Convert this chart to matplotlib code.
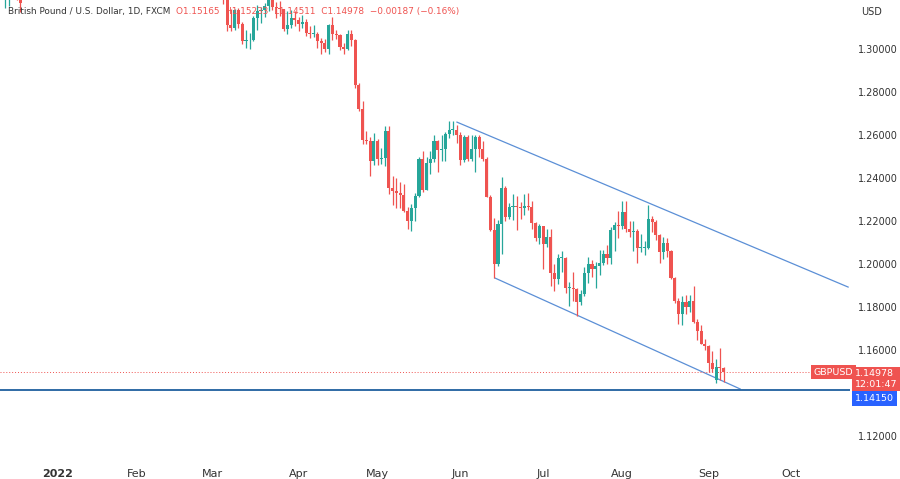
import numpy as np
import matplotlib
matplotlib.use("Agg")
import matplotlib.pyplot as plt

# GBPUSD daily, FXCM
dates = (
    ["2021-12-14", "2021-12-15", "2021-12-16", "2021-12-17", "2021-12-20"]
    + ["2022-03-%02d" % d for d in (1, 2, 3, 4, 7, 8, 9, 10, 11, 14, 15, 16, 17, 18, 21, 22, 23, 24, 25, 28, 29, 30, 31)]
    + ["2022-04-%02d" % d for d in (1, 4, 5, 6, 7, 8, 11, 12, 13, 14, 15, 18, 19, 20, 21, 22, 25, 26, 27, 28, 29)]
    + ["2022-05-%02d" % d for d in (2, 3, 4, 5, 6, 9, 10, 11, 12, 13, 16, 17, 18, 19, 20, 23, 24, 25, 26, 27, 30, 31)]
    + ["2022-06-%02d" % d for d in (1, 2, 3, 6, 7, 8, 9, 10, 13, 14, 15, 16, 17, 20, 21, 22, 23, 24, 27, 28, 29, 30)]
    + ["2022-07-%02d" % d for d in (1, 4, 5, 6, 7, 8, 11, 12, 13, 14, 15, 18, 19, 20, 21, 22, 25, 26, 27, 28, 29)]
    + ["2022-08-%02d" % d for d in (1, 2, 3, 4, 5, 8, 9, 10, 11, 12, 15, 16, 17, 18, 19, 22, 23, 24, 25, 26, 29, 30, 31)]
    + ["2022-09-%02d" % d for d in (1, 2, 5, 6, 7)]
)
closes = [
    1.3245, 1.3285, 1.3300, 1.3240, 1.3215,
    1.3280, 1.3370, 1.3345, 1.3240, 1.3110, 1.3100, 1.3180, 1.3115, 1.3035, 1.3040, 1.3040, 1.3145,
    1.3175, 1.3180, 1.3200, 1.3270, 1.3195, 1.3190, 1.3185, 1.3095, 1.3110, 1.3145, 1.3135,
    1.3115, 1.3125, 1.3075, 1.3070, 1.3070, 1.3035, 1.3030, 1.3000, 1.3110, 1.3070, 1.3065,
    1.3010, 1.3000, 1.3070, 1.3040, 1.2835, 1.2720, 1.2575, 1.2570, 1.2480, 1.2570,
    1.2490, 1.2495, 1.2620, 1.2355, 1.2340, 1.2330, 1.2320, 1.2245, 1.2200, 1.2260, 1.2315,
    1.2490, 1.2345, 1.2470, 1.2490, 1.2570, 1.2530, 1.2535, 1.2605, 1.2625, 1.2625, 1.2600,
    1.2485, 1.2590, 1.2490, 1.2535, 1.2590, 1.2535, 1.2490, 1.2310, 1.2160, 1.2000, 1.2185,
    1.2355, 1.2220, 1.2265, 1.2270, 1.2265, 1.2260, 1.2270, 1.2265, 1.2190, 1.2120, 1.2175,
    1.2095, 1.2125, 1.1960, 1.1930, 1.2030, 1.2030, 1.1890, 1.1890, 1.1885, 1.1825, 1.1860,
    1.1960, 1.2000, 1.1975, 1.1990, 1.2005, 1.2045, 1.2030, 1.2160, 1.2180, 1.2175,
    1.2240, 1.2165, 1.2150, 1.2155, 1.2075, 1.2075, 1.2075, 1.2210, 1.2195, 1.2135, 1.2055,
    1.2100, 1.2060, 1.1935, 1.1830, 1.1770, 1.1825, 1.1800, 1.1830, 1.1730, 1.1690, 1.1630, 1.1620,
    1.1540, 1.1510, 1.1520, 1.1517, 1.1498,
]
opens = [
    1.3235, 1.3245, 1.3285, 1.3300, 1.3240,
    1.3415, 1.3280, 1.3370, 1.3345, 1.3240, 1.3110, 1.3100, 1.3180, 1.3115, 1.3035, 1.3040, 1.3040,
    1.3145, 1.3175, 1.3180, 1.3200, 1.3270, 1.3195, 1.3190, 1.3185, 1.3095, 1.3110, 1.3145,
    1.3135, 1.3115, 1.3125, 1.3075, 1.3070, 1.3070, 1.3035, 1.3030, 1.3000, 1.3110, 1.3070,
    1.3065, 1.3010, 1.3000, 1.3070, 1.3040, 1.2835, 1.2720, 1.2575, 1.2570, 1.2480,
    1.2570, 1.2490, 1.2495, 1.2620, 1.2355, 1.2340, 1.2330, 1.2320, 1.2245, 1.2200, 1.2260,
    1.2315, 1.2490, 1.2345, 1.2470, 1.2490, 1.2570, 1.2530, 1.2535, 1.2605, 1.2625, 1.2625,
    1.2600, 1.2485, 1.2590, 1.2490, 1.2535, 1.2590, 1.2535, 1.2490, 1.2310, 1.2160, 1.2000,
    1.2185, 1.2355, 1.2220, 1.2265, 1.2270, 1.2265, 1.2260, 1.2270, 1.2265, 1.2190, 1.2120,
    1.2175, 1.2095, 1.2125, 1.1960, 1.1930, 1.2030, 1.2030, 1.1890, 1.1890, 1.1885, 1.1825,
    1.1860, 1.1960, 1.2000, 1.1975, 1.1990, 1.2005, 1.2045, 1.2030, 1.2160, 1.2180,
    1.2175, 1.2240, 1.2165, 1.2150, 1.2155, 1.2075, 1.2075, 1.2075, 1.2210, 1.2195, 1.2135,
    1.2055, 1.2100, 1.2060, 1.1935, 1.1830, 1.1770, 1.1825, 1.1800, 1.1830, 1.1730, 1.1690, 1.1630,
    1.1620, 1.1540, 1.1460, 1.1520, 1.15165,
]
highs = [
    1.3275, 1.3300, 1.3375, 1.3310, 1.3255,
    1.3435, 1.3385, 1.3400, 1.3350, 1.3245, 1.3185, 1.3185, 1.3190, 1.3125, 1.3090, 1.3075, 1.3155,
    1.3205, 1.3195, 1.3215, 1.3295, 1.3300, 1.3220, 1.3225, 1.3185, 1.3175, 1.3180, 1.3175,
    1.3150, 1.3160, 1.3140, 1.3105, 1.3110, 1.3080, 1.3050, 1.3045, 1.3115, 1.3150, 1.3090,
    1.3070, 1.3030, 1.3090, 1.3090, 1.3045, 1.2840, 1.2760, 1.2620, 1.2590, 1.2610,
    1.2580, 1.2540, 1.2640, 1.2640, 1.2410, 1.2400, 1.2380, 1.2370, 1.2265, 1.2280, 1.2330,
    1.2500, 1.2525, 1.2500, 1.2525, 1.2600, 1.2575, 1.2600, 1.2615, 1.2665, 1.2665, 1.2645,
    1.2615, 1.2600, 1.2600, 1.2600, 1.2600, 1.2600, 1.2570, 1.2500, 1.2320, 1.2215, 1.2205,
    1.2405, 1.2365, 1.2285, 1.2325, 1.2315, 1.2290, 1.2325, 1.2330, 1.2295, 1.2195, 1.2185,
    1.2175, 1.2165, 1.2165, 1.2000, 1.2045, 1.2060, 1.2035, 1.1915, 1.1965, 1.1890, 1.1880,
    1.1985, 1.2035, 1.2020, 1.2010, 1.2065, 1.2065, 1.2090, 1.2170, 1.2195, 1.2245,
    1.2295, 1.2295, 1.2200, 1.2200, 1.2165, 1.2140, 1.2105, 1.2275, 1.2225, 1.2205, 1.2140,
    1.2125, 1.2120, 1.2065, 1.1940, 1.1840, 1.1850, 1.1855, 1.1855, 1.1900, 1.1745, 1.1715, 1.1650,
    1.1625, 1.1595, 1.1560, 1.1610, 1.15233,
]
lows = [
    1.3190, 1.3200, 1.3250, 1.3230, 1.3170,
    1.3270, 1.3275, 1.3310, 1.3210, 1.3085, 1.3085, 1.3090, 1.3100, 1.3025, 1.3005, 1.3000, 1.3035,
    1.3090, 1.3120, 1.3150, 1.3175, 1.3180, 1.3145, 1.3155, 1.3085, 1.3070, 1.3100, 1.3105,
    1.3085, 1.3100, 1.3060, 1.3050, 1.3055, 1.3005, 1.2975, 1.2985, 1.2975, 1.3040, 1.3045,
    1.2995, 1.2975, 1.2995, 1.3015, 1.2820, 1.2710, 1.2560, 1.2560, 1.2410, 1.2460,
    1.2460, 1.2465, 1.2455, 1.2325, 1.2275, 1.2260, 1.2260, 1.2240, 1.2165, 1.2155, 1.2200,
    1.2310, 1.2335, 1.2345, 1.2420, 1.2475, 1.2430, 1.2480, 1.2480, 1.2585, 1.2600, 1.2565,
    1.2460, 1.2475, 1.2480, 1.2480, 1.2430, 1.2500, 1.2480, 1.2310, 1.2155, 1.1935, 1.1990,
    1.2045, 1.2200, 1.2210, 1.2205, 1.2160, 1.2210, 1.2230, 1.2250, 1.2165, 1.2105, 1.2095,
    1.1975, 1.2080, 1.1900, 1.1875, 1.1905, 1.1965, 1.1865, 1.1805, 1.1830, 1.1760, 1.1810,
    1.1850, 1.1910, 1.1940, 1.1890, 1.1950, 1.1995, 1.2000, 1.2000, 1.2060, 1.2120,
    1.2165, 1.2150, 1.2125, 1.2060, 1.2005, 1.2055, 1.2040, 1.2070, 1.2150, 1.2110, 1.2005,
    1.2025, 1.2035, 1.1930, 1.1820, 1.1720, 1.1715, 1.1770, 1.1775, 1.1725, 1.1645, 1.1630, 1.1600,
    1.1500, 1.1500, 1.1445, 1.1460, 1.14511,
]

month_labels = ["2022", "Feb", "Mar", "Apr", "May", "Jun", "Jul", "Aug", "Sep", "Oct"]
month_starts = ["2022-01-03", "2022-02-01", "2022-03-01", "2022-04-01", "2022-05-02",
                "2022-06-01", "2022-07-01", "2022-08-01", "2022-09-01", "2022-10-03"]
price_ticks = [1.12, 1.16, 1.18, 1.20, 1.22, 1.24, 1.26, 1.28, 1.30]

last_price = 1.14978
support = 1.14150
# channel lines (bar index, price)
upper_line = [(106.1, 1.2660), (210.1, 1.1893)]
lower_line = [(116.2, 1.1935), (181.4, 1.1419)]

UP, DOWN = "#26a69a", "#ef5350"

def bar_index(d):
    return np.busday_count("2022-01-03", d)

x = np.array([bar_index(d) for d in dates])
o, h, l, c = map(np.array, (opens, highs, lows, closes))
col = np.where(c >= o, UP, DOWN)

fig = plt.figure(figsize=(9, 4.79), dpi=100)
ax = fig.add_axes([0, 21 / 479, 850 / 900, 458 / 479])

ax.vlines(x, l, h, colors=col, linewidth=0.9, zorder=2)
body_lo = np.minimum(o, c)
body_h = np.maximum(np.abs(c - o), 0.0004)
ax.bar(x, body_h, bottom=body_lo, width=0.82, color=col, zorder=3)

ax.plot(*zip(*upper_line), color="#5b8fd6", linewidth=0.9, zorder=1)
ax.plot(*zip(*lower_line), color="#5b8fd6", linewidth=0.9, zorder=1)
ax.axhline(support, color="#1f5f9e", linewidth=1.3, zorder=1)
ax.axhline(last_price, color="#ef5350", linewidth=0.7, linestyle=(0, (1, 2)), zorder=1)

ax.set_xlim(-15.4, 210.6)
ax.set_ylim(1.1098, 1.3228)
ax.set_xticks([bar_index(d) for d in month_starts])
ax.set_xticklabels(month_labels, fontsize=8, color="#333333")
ax.get_xticklabels()[0].set_fontweight("bold")
ax.yaxis.tick_right()
ax.set_yticks(price_ticks)
ax.set_yticklabels(["%.5f" % p for p in price_ticks], fontsize=7, color="#333333")
ax.tick_params(axis="x", length=0, pad=8)
ax.tick_params(axis="y", length=0, pad=6)
for s in ax.spines.values():
    s.set_visible(False)

ax.text(1.013, 0.985, "USD", transform=ax.transAxes, fontsize=7, color="#333333", va="top")
ax.text(0.01, 0.985, "British Pound / U.S. Dollar, 1D, FXCM", transform=ax.transAxes,
        fontsize=6.4, color="#333333", va="top")
ax.text(0.207, 0.985, "O1.15165  H1.15233  L1.14511  C1.14978  \u22120.00187 (\u22120.16%)",
        transform=ax.transAxes, fontsize=6.4, color="#ef5350", va="top")

# price labels on the right scale
ax.text(0.957, last_price, "GBPUSD", transform=ax.get_yaxis_transform(), fontsize=6.8,
        color="white", va="center", bbox=dict(boxstyle="square,pad=0.3", fc=DOWN, ec="none"))
ax.text(1.006, last_price + 0.0012, "1.14978\n12:01:47", transform=ax.get_yaxis_transform(),
        fontsize=6.8, color="white", va="top", ha="left", linespacing=1.15,
        bbox=dict(boxstyle="square,pad=0.3", fc=DOWN, ec="none"))
ax.text(1.006, support - 0.0040, "1.14150", transform=ax.get_yaxis_transform(), fontsize=6.8,
        color="white", va="center", ha="left",
        bbox=dict(boxstyle="square,pad=0.3", fc="#2962ff", ec="none"))

fig.savefig("out.png", dpi=100)
